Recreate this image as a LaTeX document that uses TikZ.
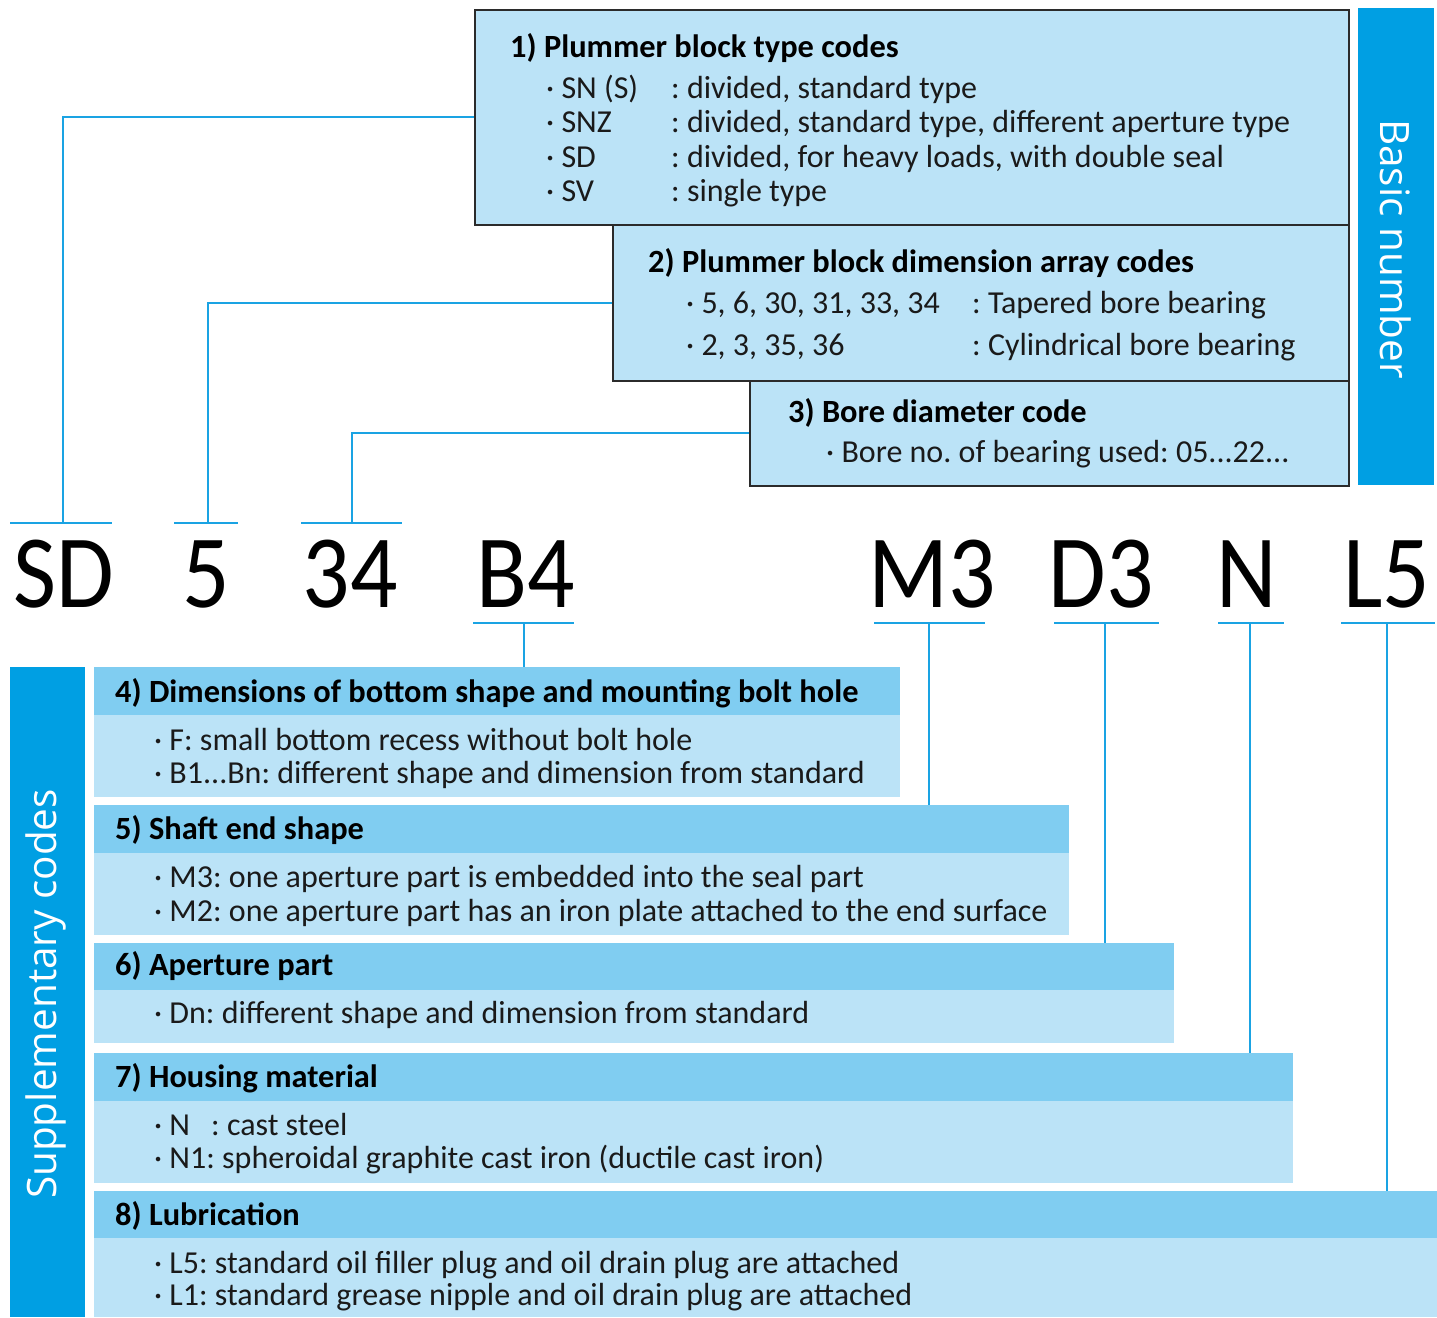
\documentclass[tikz,border=0pt]{standalone}
\usepackage{fontspec}
\setmainfont{Carlito}
\newfontfamily\labfont{Open Sans}
\newfontfamily\codefont[FakeStretch=0.9]{Carlito}
\definecolor{darkb}{HTML}{009FE3}
\definecolor{hdrb}{HTML}{80CDF1}
\definecolor{lightb}{HTML}{BBE3F7}
\definecolor{linec}{HTML}{1AA3E3}
\definecolor{bordc}{HTML}{2B2B2B}
\definecolor{txtc}{HTML}{1A1A1A}
\frenchspacing
\tikzset{
  conn/.style={draw=linec, line width=2pt},
  topbox/.style={draw=bordc, fill=lightb, line width=1.6pt, anchor=north west, inner sep=0pt},
  sidebar/.style={fill=darkb, anchor=north west, inner sep=0pt},
  hdr/.style={fill=hdrb, anchor=north west, inner sep=0pt},
  bodyb/.style={fill=lightb, anchor=north west, inner sep=0pt},
  tx/.style={anchor=base west, inner sep=0pt, text=txtc, font=\fontsize{32}{36}\selectfont},
  tt/.style={anchor=base west, inner sep=0pt, text=black, font=\fontsize{32.4}{36}\selectfont\bfseries},
  code/.style={anchor=base, inner sep=0pt, text=black, font=\fontsize{104}{110}\selectfont\codefont},
  side/.style={text=white, inner sep=0pt, font=\fontsize{40.5}{44}\selectfont\labfont}
}
\begin{document}
\begin{tikzpicture}[x=1pt,y=-1pt]
\useasboundingbox (0,0) rectangle (1437,1317);
% top boxes
\node[topbox, minimum width=874, minimum height=215] (b1) at (474,9) {};
\node[topbox, minimum width=736, minimum height=156] (b2) at (612,224) {};
\node[topbox, minimum width=599, minimum height=105] (b3) at (749,380) {};
\node[sidebar, minimum width=76, minimum height=477] (basic) at (1358,8) {};
\node[side, rotate=-90] (basiclab) at (1396,249) {Basic number};
% box 1 text
\node[tt] (t1) at (510,57) {1) Plummer block type codes};
\node[tx] (c11) at (546,98) {· SN (S)};
\node[tx] (d11) at (671,98) {: divided, standard type};
\node[tx] (c12) at (546,132) {· SNZ};
\node[tx] (d12) at (671,132) {: divided, standard type, different aperture type};
\node[tx] (c13) at (546,167) {· SD};
\node[tx] (d13) at (671,167) {: divided, for heavy loads, with double seal};
\node[tx] (c14) at (546,201) {· SV};
\node[tx] (d14) at (671,201) {: single type};
% box 2 text
\node[tt] (t2) at (648,272) {2) Plummer block dimension array codes};
\node[tx] (c21) at (686,313) {· 5, 6, 30, 31, 33, 34};
\node[tx] (d21) at (972,313) {: Tapered bore bearing};
\node[tx] (c22) at (686,355) {· 2, 3, 35, 36};
\node[tx] (d22) at (972,355) {: Cylindrical bore bearing};
% box 3 text
\node[tt] (t3) at (788,422) {3) Bore diameter code};
\node[tx] (c31) at (826,462) {· Bore no. of bearing used: 05...22...};
% codes
\node[code] (kSD) at (64,607) {SD};
\node[code] (k5) at (206,607) {5};
\node[code] (k34) at (350,607) {34};
\node[code] (kB4) at (526,607) {B4};
\node[code] (kM3) at (932,607) {M3};
\node[code] (kD3) at (1101,607) {D3};
\node[code] (kN) at (1247,607) {N};
\node[code] (kL5) at (1387,607) {L5};
% upper underlines
\coordinate (u1a) at (10,523); \coordinate (u1b) at (112,523); \coordinate (u1) at (63,523);
\coordinate (u2a) at (174,523); \coordinate (u2b) at (238,523); \coordinate (u2) at (208,523);
\coordinate (u3a) at (301,523); \coordinate (u3b) at (402,523); \coordinate (u3) at (352,523);
\draw[conn] (u1a) -- (u1b);
\draw[conn] (u2a) -- (u2b);
\draw[conn] (u3a) -- (u3b);
\draw[conn] (b1.west) -| (u1);
\draw[conn] (b2.west) -| (u2);
\draw[conn] (b3.west) -| (u3);
% supplementary
\node[sidebar, minimum width=75, minimum height=650] (supp) at (10,667) {};
\node[side, rotate=90] (supplab) at (46,994) {Supplementary codes};
\node[hdr, minimum width=806, minimum height=48] (h4) at (94,667) {};
\node[bodyb, minimum width=806, minimum height=82] (g4) at (94,715) {};
\node[hdr, minimum width=975, minimum height=48] (h5) at (94,805) {};
\node[bodyb, minimum width=975, minimum height=82] (g5) at (94,853) {};
\node[hdr, minimum width=1080, minimum height=47] (h6) at (94,943) {};
\node[bodyb, minimum width=1080, minimum height=53] (g6) at (94,990) {};
\node[hdr, minimum width=1199, minimum height=48] (h7) at (94,1053) {};
\node[bodyb, minimum width=1199, minimum height=82] (g7) at (94,1101) {};
\node[hdr, minimum width=1343, minimum height=47] (h8) at (94,1191) {};
\node[bodyb, minimum width=1343, minimum height=79] (g8) at (94,1238) {};
% lower underlines
\coordinate (l4a) at (473,623); \coordinate (l4b) at (574,623); \coordinate (l4) at (524,623);
\coordinate (l5a) at (874,623); \coordinate (l5b) at (985,623); \coordinate (l5) at (929,623);
\coordinate (l6a) at (1054,623); \coordinate (l6b) at (1159,623); \coordinate (l6) at (1105,623);
\coordinate (l7a) at (1218,623); \coordinate (l7b) at (1284,623); \coordinate (l7) at (1250,623);
\coordinate (l8a) at (1341,623); \coordinate (l8b) at (1435,623); \coordinate (l8) at (1387,623);
\draw[conn] (l4a) -- (l4b);
\draw[conn] (l5a) -- (l5b);
\draw[conn] (l6a) -- (l6b);
\draw[conn] (l7a) -- (l7b);
\draw[conn] (l8a) -- (l8b);
\draw[conn] (l4) -- (l4 |- h4.north);
\draw[conn] (l5) -- (l5 |- h5.north);
\draw[conn] (l6) -- (l6 |- h6.north);
\draw[conn] (l7) -- (l7 |- h7.north);
\draw[conn] (l8) -- (l8 |- h8.north);
% lower text
\node[tt] (t4) at (115,702) {4) Dimensions of bottom shape and mounting bolt hole};
\node[tx] (r41) at (154,750) {· F: small bottom recess without bolt hole};
\node[tx] (r42) at (154,783) {· B1...Bn: different shape and dimension from standard};
\node[tt] (t5) at (115,839) {5) Shaft end shape};
\node[tx] (r51) at (154,887) {· M3: one aperture part is embedded into the seal part};
\node[tx] (r52) at (154,921) {· M2: one aperture part has an iron plate attached to the end surface};
\node[tt] (t6) at (115,975) {6) Aperture part};
\node[tx] (r61) at (154,1023) {· Dn: different shape and dimension from standard};
\node[tt] (t7) at (115,1087) {7) Housing material};
\node[tx] (r71) at (154,1135) {· N};
\node[tx] (r71b) at (211,1135) {: cast steel};
\node[tx] (r72) at (154,1168) {· N1: spheroidal graphite cast iron (ductile cast iron)};
\node[tt] (t8) at (115,1225) {8) Lubrication};
\node[tx] (r81) at (154,1273) {· L5: standard oil filler plug and oil drain plug are attached};
\node[tx] (r82) at (154,1305) {· L1: standard grease nipple and oil drain plug are attached};
\end{tikzpicture}
\end{document}
